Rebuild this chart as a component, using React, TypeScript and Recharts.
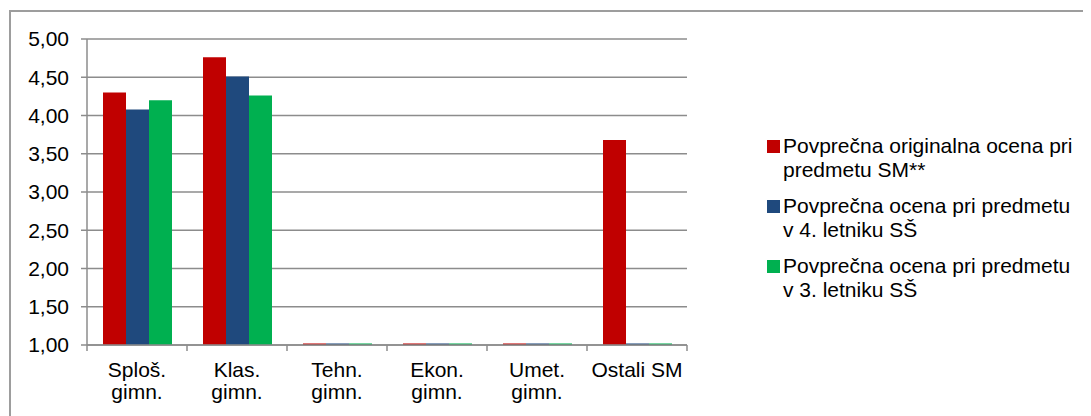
import { Bar, BarChart, CartesianGrid, XAxis, YAxis } from "recharts";

const categories = ["Sploš.\ngimn.", "Klas.\ngimn.", "Tehn.\ngimn.", "Ekon.\ngimn.", "Umet.\ngimn.", "Ostali SM"];
const originalGrade = [4.3, 4.76, 1.02, 1.02, 1.02, 3.68];
const grade4th = [4.08, 4.51, 1.02, 1.02, 1.02, 1.02];
const grade3rd = [4.2, 4.26, 1.02, 1.02, 1.02, 1.02];
const yTicks = [1, 1.5, 2, 2.5, 3, 3.5, 4, 4.5, 5];
const seriesNames = [
    "Povprečna originalna ocena pri\npredmetu SM**",
    "Povprečna ocena pri predmetu\nv 4. letniku SŠ",
    "Povprečna ocena pri predmetu\nv 3. letniku SŠ",
];
const seriesColors = ["#C00000", "#1F497D", "#00B050"];
const seriesKeys = ["original", "fourth", "third"];

const data = categories.map((name, i) => ({
    name,
    original: originalGrade[i],
    fourth: grade4th[i],
    third: grade3rd[i],
}));

const FONT = "'Liberation Sans', Arial, sans-serif";
const AXIS = "#8c8c8c";
const PLOT_W = 600;
const BAND = PLOT_W / categories.length;

const XTick = (props: any) => {
    const { x, y, payload, index } = props;
    const lines = String(payload.value).split("\n");
    const half = BAND / 2;
    return (
        <g>
            <line x1={x - half} x2={x - half} y1={y} y2={y + 6} stroke={AXIS} strokeWidth={1.5} />
            {index === categories.length - 1 && (
                <line x1={x + half} x2={x + half} y1={y} y2={y + 6} stroke={AXIS} strokeWidth={1.5} />
            )}
            <text textAnchor="middle" fontSize={21} fill="#000" fontFamily={FONT}>
                {lines.map((l, i) => (
                    <tspan key={i} x={x} y={y + 32 + i * 22}>{l}</tspan>
                ))}
            </text>
        </g>
    );
};

const ChartLegend = () => (
    <div style={{ position: "absolute", left: 759, top: 126, fontFamily: FONT, fontSize: 21, lineHeight: "24px", color: "#000" }}>
        {seriesNames.map((n, i) => (
            <div key={i} style={{ display: "flex", marginBottom: 12 }}>
                <div style={{ width: 13, height: 13, background: seriesColors[i], marginTop: 6, marginRight: 3, flexShrink: 0 }} />
                <div style={{ whiteSpace: "pre" }}>{n}</div>
            </div>
        ))}
    </div>
);

const App = () => {
    return (
        <div style={{ position: "relative", width: 1083, height: 408, overflow: "hidden" }}>
            <div style={{ position: "absolute", left: 1, top: 2, width: 1200, height: 600, border: "2px solid #9d9d9d" }} />
            <div style={{ position: "absolute", left: 0, top: 0 }}>
                <BarChart
                    width={1083}
                    height={400}
                    data={data}
                    margin={{ top: 31, right: 404, left: 0, bottom: 3 }}
                    barCategoryGap={16}
                    barGap={0}
                    style={{ fontFamily: FONT }}
                >
                    <CartesianGrid vertical={false} stroke={AXIS} strokeWidth={1.5} />
                    <XAxis
                        dataKey="name"
                        height={60}
                        interval={0}
                        tickSize={0}
                        tickMargin={0}
                        tickLine={false}
                        axisLine={{ stroke: AXIS, strokeWidth: 1.5 }}
                        tick={<XTick />}
                    />
                    <YAxis
                        width={79}
                        domain={[1, 5]}
                        ticks={yTicks}
                        interval={0}
                        allowDataOverflow
                        tickSize={6}
                        tickMargin={12}
                        tickFormatter={(v: number) => v.toFixed(2).replace(".", ",")}
                        tick={{ fill: "#000", fontSize: 21, fontFamily: FONT }}
                        axisLine={{ stroke: AXIS, strokeWidth: 1.5 }}
                        tickLine={{ stroke: AXIS, strokeWidth: 1.5 }}
                    />
                    {seriesKeys.map((k, i) => (
                        <Bar key={k} dataKey={k} name={seriesNames[i]} fill={seriesColors[i]} isAnimationActive={false} />
                    ))}
                </BarChart>
            </div>
            <ChartLegend />
        </div>
    );
};

export default App;
